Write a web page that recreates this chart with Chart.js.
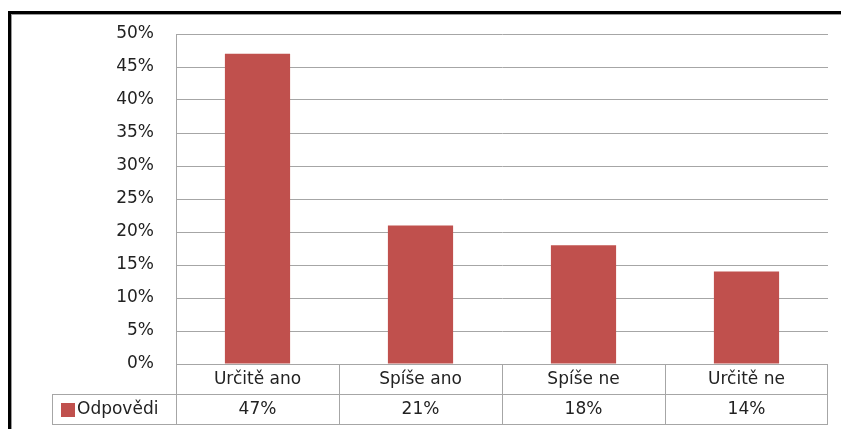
<!DOCTYPE html>
<html>
<head>
<meta charset="utf-8">
<script src="https://cdn.jsdelivr.net/npm/chart.js@4"></script>
<style>
  html, body { margin: 0; padding: 0; background: #fff; }
  #wrap { width: 841px; height: 429px; position: relative; }
</style>
</head>
<body>
<div id="wrap"><canvas id="chart" width="841" height="429"></canvas></div>
<script>
const categories = ['Určitě ano', 'Spíše ano', 'Spíše ne', 'Určitě ne'];
const values = [0.47, 0.21, 0.18, 0.14];
const seriesName = 'Odpovědi';
const yTicks = [0, 0.05, 0.1, 0.15, 0.2, 0.25, 0.3, 0.35, 0.4, 0.45, 0.5];

const FONT = 'DejaVu Sans';
const TEXT = '#222';
const BAR = '#C0504D';
const LINE = '#a6a6a6';

const pct = v => Math.round(v * 100) + '%';

// frame + data table under the plot
const tablePlugin = {
  id: 'dataTable',
  beforeDraw(chart) {
    const c = chart.ctx;
    c.save();
    c.fillStyle = '#000';
    c.fillRect(8, 11, 841, 3);
    c.fillRect(8, 11, 3, 429);
    c.fillStyle = '#9a9a9a';
    c.fillRect(11, 14, 841, 1);
    c.fillRect(11, 14, 1, 429);
    c.restore();
  },
  afterDraw(chart) {
    const c = chart.ctx;
    const x = chart.scales.x;
    const area = chart.chartArea;
    const top = area.bottom;
    const row1 = top + 30;
    const row2 = row1 + 30;
    const left = 52;
    const half = (x.getPixelForValue(1) - x.getPixelForValue(0)) / 2;

    c.save();
    c.strokeStyle = LINE;
    c.lineWidth = 1;
    c.beginPath();
    c.moveTo(area.left, top + 0.5); c.lineTo(area.right, top + 0.5);
    c.moveTo(left, row1 + 0.5); c.lineTo(area.right, row1 + 0.5);
    c.moveTo(left, row2 + 0.5); c.lineTo(area.right, row2 + 0.5);
    c.moveTo(left + 0.5, row1); c.lineTo(left + 0.5, row2);
    categories.forEach((cat, i) => {
      const px = Math.round(x.getPixelForValue(i) - half) + 0.5;
      c.moveTo(px, top); c.lineTo(px, row2);
    });
    c.moveTo(Math.round(area.right) - 0.5, top); c.lineTo(Math.round(area.right) - 0.5, row2);
    c.stroke();

    c.fillStyle = TEXT;
    c.font = '17px "' + FONT + '"';
    c.textAlign = 'center';
    c.textBaseline = 'middle';
    categories.forEach((cat, i) => {
      const px = x.getPixelForValue(i);
      c.fillText(cat, px, top + 16);
      c.fillText(pct(values[i]), px, row1 + 16);
    });

    c.fillStyle = BAR;
    c.fillRect(61, row1 + 9, 14, 14);
    c.fillStyle = TEXT;
    c.textAlign = 'left';
    c.fillText(seriesName, 77, row1 + 16);
    c.restore();
  }
};

new Chart(document.getElementById('chart'), {
  type: 'bar',
  data: {
    labels: categories,
    datasets: [{
      label: seriesName,
      data: values,
      backgroundColor: BAR,
      borderWidth: 0,
      categoryPercentage: 0.4,
      barPercentage: 1
    }]
  },
  options: {
    responsive: false,
    animation: false,
    layout: { padding: { top: 34, right: 13, bottom: 65, left: 0 } },
    plugins: {
      legend: { display: false },
      tooltip: { enabled: false }
    },
    scales: {
      x: { display: false },
      y: {
        min: 0,
        max: 0.5,
        afterFit(scale) { scale.width = 176; },
        afterBuildTicks(scale) { scale.ticks = yTicks.map(v => ({ value: v })); },
        grid: { color: LINE, drawTicks: false },
        border: { color: LINE },
        ticks: {
          padding: 22,
          color: TEXT,
          font: { family: FONT, size: 17 },
          callback: v => pct(v)
        }
      }
    }
  },
  plugins: [tablePlugin]
});
</script>
</body>
</html>
